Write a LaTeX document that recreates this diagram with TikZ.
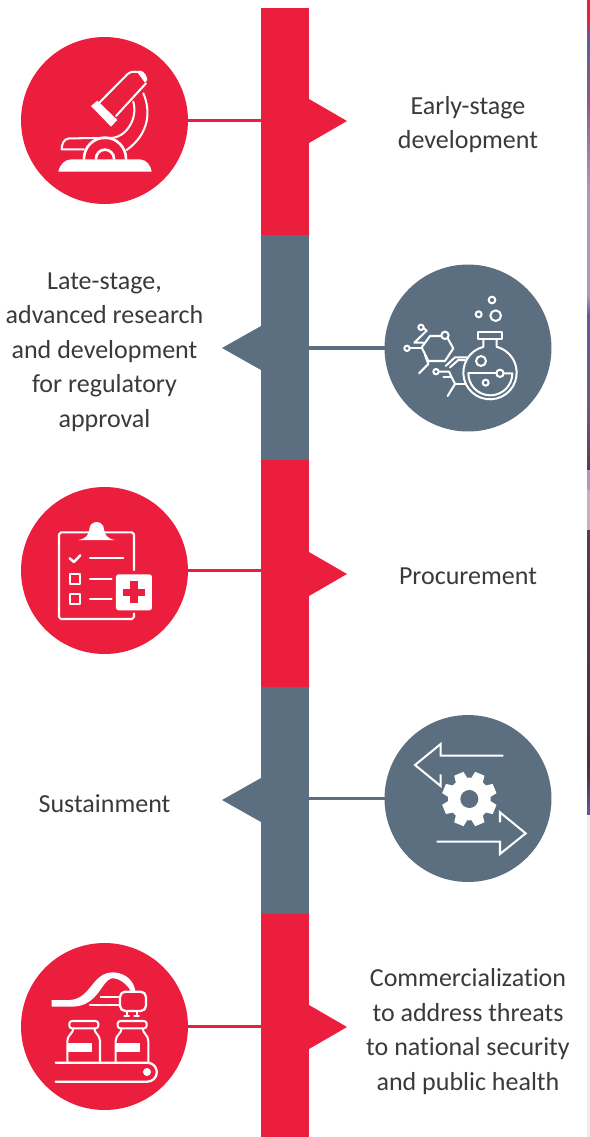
\documentclass[tikz,border=0pt]{standalone}
\usepackage{fontspec}
\setmainfont{Carlito}[Ligatures=CommonOff]
\usetikzlibrary{positioning, calc}
\definecolor{brandred}{HTML}{EB1F3D}
\definecolor{brandgray}{HTML}{5C6F81}
\definecolor{bodytext}{HTML}{3A3A3A}
\definecolor{stripblue}{HTML}{5A5F9A}
\definecolor{stripmauve}{HTML}{8A5A8A}
\definecolor{striplav}{HTML}{A99BC0}
\definecolor{stripdusk}{HTML}{6A5A85}
\definecolor{stripplum}{HTML}{5A3A55}
\definecolor{strippink}{HTML}{C9B0C0}
\definecolor{stripdark}{HTML}{4A3040}

\begin{document}
\begin{tikzpicture}[
  x=0.02cm, y=-0.02cm,
  seg/.style={minimum width=0.96cm, minimum height=#1*0.02cm, inner sep=0pt, outer sep=0pt},
  disc/.style={circle, minimum size=3.34cm, inner sep=0pt, outer sep=0pt},
  lbl/.style={font=\fontsize{14.8pt}{19.6pt}\selectfont, text=bodytext, align=center},
  link/.style={line width=2.2pt},
  icon/.style={white, line width=1.15pt, line cap=round, line join=round},
  crop/.style={shift={#1}, x=0.00667cm, y=-0.00667cm}
]
\useasboundingbox (0,0) rectangle (590,1137);

% Strip at the right edge
\fill[brandred] (587,0) rectangle (590,18);
\shade[top color=brandred, bottom color=stripblue] (587,18) rectangle (590,38);
\shade[top color=stripblue, bottom color=stripmauve] (587,38) rectangle (590,100);
\shade[top color=stripmauve, bottom color=striplav] (587,100) rectangle (590,190);
\shade[top color=striplav, bottom color=striplav] (587,190) rectangle (590,295);
\shade[top color=striplav, bottom color=stripblue] (587,295) rectangle (590,315);
\shade[top color=stripblue, bottom color=stripdusk] (587,315) rectangle (590,410);
\shade[top color=stripdusk, bottom color=stripplum] (587,410) rectangle (590,470);
\fill[striplav] (587,470) rectangle (590,490);
\fill[strippink] (587,490) rectangle (590,530);
\shade[top color=stripplum, bottom color=stripdark] (587,530) rectangle (590,770);
\shade[top color=stripdark, bottom color=stripblue] (587,770) rectangle (590,815);
\fill[black!7] (587,815) rectangle (590,1137);

% Bar segments
\node[seg=227, fill=brandred] (bara) at (285,121.5) {};
\node[seg=225, fill=brandgray] (barb) at (285,347.5) {};
\node[seg=227, fill=brandred] (barc) at (285,573.5) {};
\node[seg=227, fill=brandgray] (bard) at (285,800.5) {};
\node[seg=223, fill=brandred] (bare) at (285,1025.5) {};

% Pointers
\fill[brandred] (309,99) -- (347,121) -- (309,143) -- cycle;
\fill[brandgray] (261,326) -- (222,348) -- (261,370) -- cycle;
\fill[brandred] (309,552) -- (347,574) -- (309,596) -- cycle;
\fill[brandgray] (261,778) -- (222,800) -- (261,822) -- cycle;
\fill[brandred] (309,1005) -- (347,1027) -- (309,1049) -- cycle;

% Discs
\node[disc, fill=brandred] (scope) at (104.5,120.5) {};
\node[disc, fill=brandgray] (flask) at (468,348) {};
\node[disc, fill=brandred] (clipboard) at (104.5,570.5) {};
\node[disc, fill=brandgray] (gear) at (468,798.5) {};
\node[disc, fill=brandred] (vials) at (104.5,1026.5) {};

% Links
\draw[link, brandred] (scope.east) -- (scope.east -| bara.west);
\draw[link, brandgray] (flask.west) -- (flask.west -| barb.east);
\draw[link, brandred] (clipboard.east) -- (clipboard.east -| barc.west);
\draw[link, brandgray] (gear.west) -- (gear.west -| bard.east);
\draw[link, brandred] (vials.east) -- (vials.east -| bare.west);

% Labels
\node[lbl] (early) at (468,124.5) {Early-stage\\development};
\node[lbl] (late) at (104.5,352) {Late-stage,\\advanced research\\and development\\for regulatory\\approval};
\node[lbl] (procure) at (468,576) {Procurement};
\node[lbl] (sustain) at (104.5,803.5) {Sustainment};
\node[lbl] (market) at (468,1031.5) {Commercialization\\to address threats\\to national security\\and public health};

% Microscope
\begin{scope}[crop={(10,30)}, icon]
  \fill (243,228) -- (262,212) -- (322,270) -- (303,290) -- cycle;
  \draw (268,218) -- (352,133) .. controls (360,125) and (372,124) .. (382,126);
  \draw (318,258) -- (408,160);
  \fill (380,124) .. controls (392,118) and (408,124) .. (412,150) -- (405,158) -- cycle;
  \draw (400,190) .. controls (422,240) and (420,310) .. (350,360);
  \draw (370,215) .. controls (385,270) and (345,322) .. (305,324) -- (178,325) .. controls (160,326) and (155,345) .. (155,358) -- (222,358);
  \draw[line width=1.5pt] (222,386) arc[start angle=180, end angle=360, radius=63];
  \draw[line width=1.5pt] (258,386) arc[start angle=180, end angle=360, radius=27];
  \fill (145,425) .. controls (150,402) and (165,388) .. (185,388) -- (390,388) .. controls (410,390) and (422,405) .. (425,425) -- cycle;
\end{scope}

% Flask and molecules
\begin{scope}[crop={(375,260)}, icon]
  \draw (351,120) circle[radius=10];
  \draw (311,163) circle[radius=9];
  \draw (362,167) circle[radius=16];
  \draw (308,215) rectangle (382,238);
  \draw (325,238) -- (325,260.5) arc[start angle=255.5, end angle=-75.5, radius=80] -- (365,238);
  \draw (280,340) -- (364,340);
  \draw (386,340) -- (412,340) arc[start angle=0, end angle=180, radius=66];
  \draw (375,340) circle[radius=11];
  \draw (318,303) circle[radius=15];
  \draw (332,368) circle[radius=9];
  \draw (200,228) -- (165,228) -- (140,262) -- (160,303) -- (210,303) -- (235,265) -- (218,235);
  \draw (210,226) circle[radius=11];
  \draw (96,265) circle[radius=8];
  \draw (104,265) -- (138,265);
  \draw (138,202) circle[radius=8];
  \draw (146,204) -- (155,212) -- (118,248) -- (145,248);
  \draw (150,285) -- (160,312) -- (132,340);
  \draw (183,335) circle[radius=8];
  \draw (191,335) -- (222,335) -- (240,372) -- (218,408);
  \draw (205,350) -- (228,350);
  \draw (212,318) -- (240,292) -- (278,292);
  \draw (225,322) -- (250,300) -- (270,300);
  \draw (240,372) -- (272,372);
\end{scope}

% Clipboard
\begin{scope}[crop={(10,480)}, icon]
  \draw (372,270) -- (372,163) -- ++(-6,-6) -- (153,157) -- ++(-6,6) -- (147,411) -- ++(6,6) -- (366,417) -- ++(6,-6) -- (372,400);
  \fill (205,180) .. controls (228,176) and (236,165) .. (238,148) arc[start angle=180, end angle=360, radius=22] .. controls (284,165) and (292,176) .. (315,180) -- cycle;
  \draw[line width=1.4pt] (179,235) -- (192,246) -- (211,226);
  \draw (240,234) -- (340,234);
  \draw (240,296) -- (305,296);
  \draw (240,357) -- (305,357);
  \draw (180,282) rectangle (210,312);
  \draw (180,343) rectangle (210,373);
  \fill[rounded corners=1.5pt] (318,283) rectangle (426,391);
  \fill[brandred] (361,304) rectangle (383,370);
  \fill[brandred] (339,326) rectangle (405,348);
\end{scope}

% Arrows and cog
\begin{scope}[crop={(375,705)}, icon]
  \draw[line cap=butt, miter limit=10, line join=miter] (385,152) -- (197,152) -- (197,117) -- (120,180) -- (197,243) -- (197,208);
  \draw[line cap=butt, miter limit=10, line join=miter] (185,410) -- (375,410) -- (375,447) -- (452,385) -- (375,322) -- (375,352);
  \fill (283,282) circle[radius=64];
  \foreach \ang in {0,45,...,315}
    \fill[rotate around={\ang+22.5:(283,282)}] (268,200) -- (298,200) -- (303,230) -- (263,230) -- cycle;
  \fill[brandgray] (283,282) circle[radius=27];
\end{scope}

% Vials on a belt
\begin{scope}[crop={(10,935)}, icon]
  \fill (125,195) -- (180,195) .. controls (245,190) and (245,112) .. (310,112) .. controls (350,114) and (372,140) .. (376,168) -- (362,168) .. controls (350,145) and (325,128) .. (305,130) .. controls (275,135) and (265,215) .. (185,215) -- (125,215) -- cycle;
  \draw[line width=1.3pt, rounded corners=3pt] (330,170) rectangle (408,228);
  \fill (270,183) -- (330,183) -- (330,190) -- (270,190) -- cycle;
  \draw (240,210) -- (330,210);
  \draw (350,228) -- (350,243) (380,228) -- (380,243);
  \draw (343,243) -- (357,243) (373,243) -- (387,243);
  \foreach \dx in {0,145}{
    \begin{scope}[xshift=\dx*0.00667cm]
      \draw[rounded corners=1.5pt] (178,258) rectangle (265,280);
      \draw (190,280) .. controls (190,295) and (172,300) .. (172,318) -- (172,380);
      \draw (253,280) .. controls (253,295) and (270,300) .. (270,318) -- (270,380);
      \fill (172,325) rectangle (245,350);
    \end{scope}
  }
  \draw[line width=1.3pt] (137,383) -- (412,383) arc[start angle=-90, end angle=90, radius=28.5] -- (137,440);
  \fill (411,411) circle[radius=12];
\end{scope}

\end{tikzpicture}
\end{document}
